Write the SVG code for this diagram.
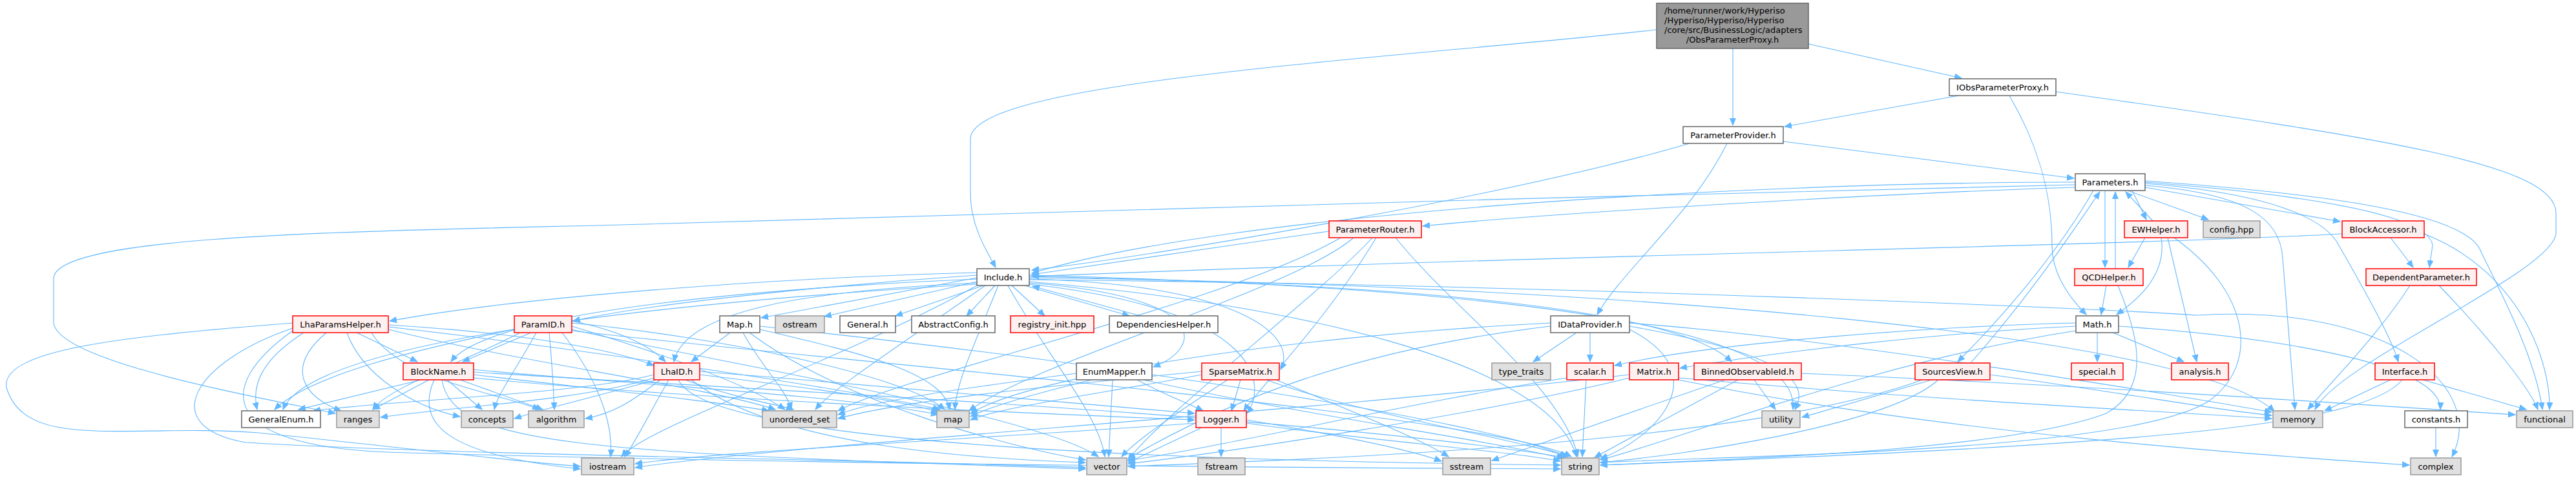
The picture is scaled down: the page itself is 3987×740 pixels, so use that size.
<svg xmlns="http://www.w3.org/2000/svg" width="3987" height="740" viewBox="0 0 3987 740">
<defs>
<style>
.e path{fill:none;stroke:#63b8ff;stroke-width:1.1;marker-end:url(#ah)}
.n rect{fill:#ffffff;stroke:#666666;stroke-width:1.5}
.r rect{fill:#fff0f0;stroke:#ff0000;stroke-width:1.5}
.x rect{fill:#e0e0e0;stroke:#999999;stroke-width:1.5}
text{font-family:"DejaVu Sans","Liberation Sans",sans-serif;font-size:13px;fill:#000000;text-anchor:middle}
</style>
<marker id="ah" markerWidth="12" markerHeight="10" refX="11" refY="5" orient="auto" markerUnits="userSpaceOnUse"><path d="M0,0.5 L11,5 L0,9.5 z" fill="#63b8ff" stroke="#63b8ff"/></marker>
</defs>
<rect width="3987" height="740" fill="#ffffff"/>
<g id="edges" class="e">
<path d="M2564,46 C2150,92 1502,125 1502,215 L1502,300 C1502,350 1528,390 1541,414"/>
<path d="M2682,75 L2682,194"/>
<path d="M2799,68 L3036,121"/>
<path d="M3032,148 L2762,196"/>
<path d="M3110,148 C3155,225 3176,300 3176,380 C3176,430 3210,468 3229,487"/>
<path d="M3182,142 C3700,215 3956,255 3956,330 L3956,360 C3956,420 3620,560 3583,634"/>
<path d="M2760,219 L3210,276"/>
<path d="M2615,222 C2350,300 1800,395 1597,418"/>
<path d="M2673,222 C2620,330 2510,420 2472,487"/>
<path d="M3212,282 C2700,282 1900,330 1597,423"/>
<path d="M3212,290 C2900,300 2400,330 2202,350"/>
<path d="M3212,286 C2500,300 1500,335 1000,347 C600,358 90,360 83,430 L83,500 C90,560 400,615 519,640"/>
<path d="M3300,295 L3322,340"/>
<path d="M3293,295 L3418,340"/>
<path d="M3320,290 L3622,343"/>
<path d="M3258,295 L3258,414"/>
<path d="M3240,295 C3180,400 3090,500 3030,560"/>
<path d="M3320,282 C3550,300 3760,330 3765,380 L3760,414"/>
<path d="M3320,287 C3480,300 3530,340 3533,400 L3552,634"/>
<path d="M3320,284 C3520,300 3600,340 3620,380 C3660,450 3700,520 3712,560"/>
<path d="M3320,280 C3600,300 3820,330 3840,390 C3880,470 3925,560 3935,634"/>
<path d="M3332,342 L3290,297"/>
<path d="M3274,416 L3274,297"/>
<path d="M3050,562 C3140,460 3200,370 3250,297"/>
<path d="M3320,368 L3294,414"/>
<path d="M3345,368 C3355,430 3300,470 3276,487"/>
<path d="M3355,368 L3400,560"/>
<path d="M3365,368 C3480,450 3500,560 3420,620 C3300,700 2700,705 2477,716"/>
<path d="M3260,442 L3252,487"/>
<path d="M3278,442 C3310,520 3330,600 3260,640 C3100,700 2650,712 2477,720"/>
<path d="M3246,515 L3246,560"/>
<path d="M3270,515 L3380,560"/>
<path d="M3279,505 C3500,520 3780,560 3777,634"/>
<path d="M3213,500 C3000,505 2650,530 2499,566"/>
<path d="M3213,505 C3000,515 2750,545 2600,570"/>
<path d="M3213,512 C2900,560 2600,680 2477,712"/>
<path d="M3730,442 C3680,520 3600,600 3572,634"/>
<path d="M3775,442 C3850,520 3915,600 3928,634"/>
<path d="M3700,368 L3735,414"/>
<path d="M3625,362 C3300,380 2400,395 1597,428"/>
<path d="M3752,362 C3900,420 3948,560 3946,634"/>
<path d="M3700,588 L3598,636"/>
<path d="M3750,588 L3910,634"/>
<path d="M3718,588 C3660,660 3300,690 2477,720"/>
<path d="M3770,662 L3770,707"/>
<path d="M3080,580 C3300,610 3450,638 3516,643"/>
<path d="M2990,588 L2789,646"/>
<path d="M3000,588 C2920,660 2600,705 2477,716"/>
<path d="M2975,588 C2700,690 2000,712 1746,722"/>
<path d="M2715,588 L2748,634"/>
<path d="M2690,588 L2468,708"/>
<path d="M2670,588 L2309,713"/>
<path d="M2788,578 C3300,600 3700,630 3893,642"/>
<path d="M2522,585 C2300,640 1900,700 1746,718"/>
<path d="M2598,585 C3000,620 3400,640 3516,648"/>
<path d="M2598,588 C3000,670 3500,705 3729,720"/>
<path d="M2522,580 C2000,640 1200,690 983,724"/>
<path d="M2425,585 C2200,620 1900,690 1746,713"/>
<path d="M2455,588 L2449,707"/>
<path d="M2440,515 L2373,560"/>
<path d="M2461,515 L2461,560"/>
<path d="M2522,505 C2720,540 2810,580 2778,634"/>
<path d="M2522,510 C2660,580 2560,680 2477,710"/>
<path d="M2400,505 C2100,540 1900,620 1746,710"/>
<path d="M2400,500 C2000,520 1600,580 1502,640"/>
<path d="M2522,500 C2800,520 3300,600 3516,638"/>
<path d="M2057,358 C1900,380 1700,410 1597,425"/>
<path d="M2095,368 C2000,450 1600,560 1500,636"/>
<path d="M2124,368 C2050,450 1800,640 1746,712"/>
<path d="M2160,368 C2250,480 2420,600 2442,707"/>
<path d="M2075,368 C1900,470 1400,580 1297,636"/>
<path d="M2130,368 C2050,500 1950,600 1925,636"/>
<path d="M1512,430 L1178,492"/>
<path d="M1512,436 L1276,490"/>
<path d="M1522,442 L1386,489"/>
<path d="M1540,442 L1496,489"/>
<path d="M1566,442 L1617,489"/>
<path d="M1586,442 L1748,489"/>
<path d="M1765,489 L1598,443"/>
<path d="M1512,422 C1200,430 800,460 603,497"/>
<path d="M1512,426 C1300,440 1000,470 887,497"/>
<path d="M1512,432 C1100,450 750,490 698,560"/>
<path d="M1512,438 C1250,450 1060,480 1043,560"/>
<path d="M1512,440 C1000,470 480,530 438,634"/>
<path d="M1593,438 C1880,460 1860,540 1785,568"/>
<path d="M1593,432 C1920,440 2010,520 1982,572"/>
<path d="M1593,440 C1960,480 1960,600 1930,640"/>
<path d="M1593,428 C2200,440 2600,480 2680,560"/>
<path d="M1593,426 C2300,445 2790,500 2775,634"/>
<path d="M1593,433 C2400,440 3300,480 3400,488 C3700,470 3850,600 3795,707"/>
<path d="M1593,436 C2000,470 2400,560 2440,707"/>
<path d="M1560,442 C1620,550 1700,640 1710,707"/>
<path d="M1545,442 C1510,530 1480,590 1478,634"/>
<path d="M1525,442 C1400,530 1290,600 1262,634"/>
<path d="M1512,442 C1300,560 1000,660 962,707"/>
<path d="M1593,430 C2500,440 3400,520 3520,637"/>
<path d="M1130,515 L1070,560"/>
<path d="M1176,510 C1350,550 1460,580 1470,634"/>
<path d="M1160,515 C1300,620 1550,690 1680,712"/>
<path d="M1176,505 C1700,560 2300,650 2425,707"/>
<path d="M1150,515 C1180,570 1215,600 1225,634"/>
<path d="M552,515 L646,560"/>
<path d="M470,515 C400,560 390,600 398,634"/>
<path d="M505,515 C440,570 470,615 528,636"/>
<path d="M537,515 C560,580 640,630 712,645"/>
<path d="M575,515 C620,590 780,610 835,634"/>
<path d="M453,500 C200,520 0,540 10,600 C40,700 200,655 400,670 C600,690 800,715 898,722"/>
<path d="M453,508 C300,560 240,660 380,685 C700,705 1400,712 1680,724"/>
<path d="M453,512 C330,600 340,690 600,700 C1200,718 2000,724 2415,726"/>
<path d="M601,510 C800,560 1100,600 1200,634"/>
<path d="M601,506 C900,540 1300,600 1455,634"/>
<path d="M601,503 C800,515 950,540 1012,566"/>
<path d="M822,515 L716,560"/>
<path d="M796,510 C650,540 480,580 425,634"/>
<path d="M805,515 C720,560 600,600 577,634"/>
<path d="M830,515 C800,570 770,610 765,634"/>
<path d="M850,515 C855,570 857,610 858,634"/>
<path d="M885,505 C1000,540 1150,590 1215,634"/>
<path d="M885,500 C1100,520 1400,580 1462,634"/>
<path d="M885,510 C1100,560 1600,640 1700,707"/>
<path d="M885,512 C1300,560 2300,640 2432,707"/>
<path d="M885,497 C950,510 1000,530 1030,560"/>
<path d="M870,515 C920,580 950,650 945,707"/>
<path d="M652,588 L462,634"/>
<path d="M664,588 L577,634"/>
<path d="M692,588 L746,634"/>
<path d="M712,588 L840,634"/>
<path d="M672,588 C640,660 700,705 898,726"/>
<path d="M684,588 C700,690 900,700 1680,726"/>
<path d="M733,576 C1100,600 2000,640 2422,708"/>
<path d="M733,580 C900,600 1100,620 1190,636"/>
<path d="M733,572 C900,590 1300,610 1452,642"/>
<path d="M733,585 C1100,620 1600,640 1849,650"/>
<path d="M1012,580 C900,610 600,620 485,636"/>
<path d="M1012,585 C900,620 700,630 589,646"/>
<path d="M1015,588 C900,620 850,630 796,648"/>
<path d="M1022,588 C980,620 950,640 906,648"/>
<path d="M1035,588 C1000,650 980,690 967,707"/>
<path d="M1060,588 C1150,620 1200,625 1228,634"/>
<path d="M1083,580 C1250,600 1400,620 1452,638"/>
<path d="M1070,588 C1200,690 1500,710 1680,716"/>
<path d="M1050,588 C1100,700 2000,715 2415,720"/>
<path d="M1083,575 C1400,600 1750,630 1849,640"/>
<path d="M1690,588 C1600,610 1530,630 1502,645"/>
<path d="M1722,588 L1716,707"/>
<path d="M1770,588 C2000,640 2300,680 2420,710"/>
<path d="M1760,588 C1800,610 1840,625 1862,636"/>
<path d="M1666,578 C1500,600 1350,620 1297,642"/>
<path d="M1900,588 C1820,640 1760,680 1736,707"/>
<path d="M1860,580 C1700,610 1550,630 1502,650"/>
<path d="M1920,588 L1906,636"/>
<path d="M1860,575 C1600,600 1400,620 1297,648"/>
<path d="M1960,588 C2100,640 2350,680 2427,707"/>
<path d="M1975,588 C2100,640 2200,680 2242,707"/>
<path d="M1890,662 L1890,707"/>
<path d="M1860,662 L1746,716"/>
<path d="M1929,655 C2100,680 2350,700 2415,714"/>
<path d="M1929,650 C2050,670 2180,695 2231,714"/>
<path d="M1851,655 C1500,680 1100,700 983,718"/>
</g>
<g id="main"><rect x="2564" y="5" width="235" height="70" fill="#999999" stroke="#666666" stroke-width="1.5"/>
<text x="2576" y="21" text-anchor="start" style="text-anchor:start">/home/runner/work/Hyperiso</text>
<text x="2576" y="36" style="text-anchor:start">/Hyperiso/Hyperiso/Hyperiso</text>
<text x="2576" y="51" style="text-anchor:start">/core/src/BusinessLogic/adapters</text>
<text x="2681.5" y="65.5">/ObsParameterProxy.h</text></g>
<g id="IObsParameterProxy" class="n"><rect x="3017" y="122" width="165" height="26"/><text x="3099.5" y="140">IObsParameterProxy.h</text></g>
<g id="ParameterProvider" class="n"><rect x="2605" y="196" width="155" height="26"/><text x="2682.5" y="214">ParameterProvider.h</text></g>
<g id="Parameters" class="n"><rect x="3212" y="269" width="108" height="26"/><text x="3266" y="287">Parameters.h</text></g>
<g id="ParameterRouter" class="r"><rect x="2057" y="342" width="143" height="26"/><text x="2128.5" y="360">ParameterRouter.h</text></g>
<g id="EWHelper" class="r"><rect x="3288" y="342" width="98" height="26"/><text x="3337" y="360">EWHelper.h</text></g>
<g id="config" class="x"><rect x="3410" y="342" width="88" height="26"/><text x="3454" y="360">config.hpp</text></g>
<g id="BlockAccessor" class="r"><rect x="3625" y="342" width="127" height="26"/><text x="3688.5" y="360">BlockAccessor.h</text></g>
<g id="Include" class="n"><rect x="1512" y="416" width="81" height="26"/><text x="1552.5" y="434">Include.h</text></g>
<g id="QCDHelper" class="r"><rect x="3211" y="416" width="106" height="26"/><text x="3264" y="434">QCDHelper.h</text></g>
<g id="DependentParameter" class="r"><rect x="3662" y="416" width="171" height="26"/><text x="3747.5" y="434">DependentParameter.h</text></g>
<g id="LhaParamsHelper" class="r"><rect x="453" y="489" width="148" height="26"/><text x="527" y="507">LhaParamsHelper.h</text></g>
<g id="ParamID" class="r"><rect x="796" y="489" width="89" height="26"/><text x="840.5" y="507">ParamID.h</text></g>
<g id="Map" class="n"><rect x="1114" y="489" width="62" height="26"/><text x="1145" y="507">Map.h</text></g>
<g id="ostream" class="x"><rect x="1200" y="489" width="76" height="26"/><text x="1238" y="507">ostream</text></g>
<g id="General" class="n"><rect x="1300" y="489" width="86" height="26"/><text x="1343" y="507">General.h</text></g>
<g id="AbstractConfig" class="n"><rect x="1411" y="489" width="129" height="26"/><text x="1475.5" y="507">AbstractConfig.h</text></g>
<g id="registry_init" class="r"><rect x="1564" y="489" width="129" height="26"/><text x="1628.5" y="507">registry_init.hpp</text></g>
<g id="DependenciesHelper" class="n"><rect x="1717" y="489" width="168" height="26"/><text x="1801" y="507">DependenciesHelper.h</text></g>
<g id="IDataProvider" class="n"><rect x="2400" y="489" width="122" height="26"/><text x="2461" y="507">IDataProvider.h</text></g>
<g id="Math" class="n"><rect x="3213" y="489" width="66" height="26"/><text x="3246" y="507">Math.h</text></g>
<g id="BlockName" class="r"><rect x="624" y="562" width="109" height="26"/><text x="678.5" y="580">BlockName.h</text></g>
<g id="LhaID" class="r"><rect x="1012" y="562" width="71" height="26"/><text x="1047.5" y="580">LhaID.h</text></g>
<g id="EnumMapper" class="n"><rect x="1666" y="562" width="117" height="26"/><text x="1724.5" y="580">EnumMapper.h</text></g>
<g id="SparseMatrix" class="r"><rect x="1860" y="562" width="120" height="26"/><text x="1920" y="580">SparseMatrix.h</text></g>
<g id="type_traits" class="x"><rect x="2309" y="562" width="91" height="26"/><text x="2354.5" y="580">type_traits</text></g>
<g id="scalar" class="r"><rect x="2425" y="562" width="72" height="26"/><text x="2461" y="580">scalar.h</text></g>
<g id="Matrix" class="r"><rect x="2522" y="562" width="76" height="26"/><text x="2560" y="580">Matrix.h</text></g>
<g id="BinnedObservableId" class="r"><rect x="2622" y="562" width="166" height="26"/><text x="2705" y="580">BinnedObservableId.h</text></g>
<g id="SourcesView" class="r"><rect x="2964" y="562" width="116" height="26"/><text x="3022" y="580">SourcesView.h</text></g>
<g id="special" class="r"><rect x="3206" y="562" width="80" height="26"/><text x="3246" y="580">special.h</text></g>
<g id="analysis" class="r"><rect x="3361" y="562" width="88" height="26"/><text x="3405" y="580">analysis.h</text></g>
<g id="Interface" class="r"><rect x="3676" y="562" width="92" height="26"/><text x="3722" y="580">Interface.h</text></g>
<g id="GeneralEnum" class="n"><rect x="374" y="636" width="122" height="26"/><text x="435" y="654">GeneralEnum.h</text></g>
<g id="ranges" class="x"><rect x="521" y="636" width="66" height="26"/><text x="554" y="654">ranges</text></g>
<g id="concepts" class="x"><rect x="714" y="636" width="80" height="26"/><text x="754" y="654">concepts</text></g>
<g id="algorithm" class="x"><rect x="818" y="636" width="86" height="26"/><text x="861" y="654">algorithm</text></g>
<g id="unordered_set" class="x"><rect x="1180" y="636" width="115" height="26"/><text x="1237.5" y="654">unordered_set</text></g>
<g id="map" class="x"><rect x="1450" y="636" width="50" height="26"/><text x="1475" y="654">map</text></g>
<g id="Logger" class="r"><rect x="1851" y="636" width="78" height="26"/><text x="1890" y="654">Logger.h</text></g>
<g id="utility" class="x"><rect x="2727" y="636" width="59" height="26"/><text x="2756.5" y="654">utility</text></g>
<g id="memory" class="x"><rect x="3518" y="636" width="77" height="26"/><text x="3556.5" y="654">memory</text></g>
<g id="constants" class="n"><rect x="3722" y="636" width="97" height="26"/><text x="3770.5" y="654">constants.h</text></g>
<g id="functional" class="x"><rect x="3895" y="636" width="87" height="26"/><text x="3938.5" y="654">functional</text></g>
<g id="iostream" class="x"><rect x="900" y="709" width="81" height="26"/><text x="940.5" y="727">iostream</text></g>
<g id="vector" class="x"><rect x="1682" y="709" width="62" height="26"/><text x="1713" y="727">vector</text></g>
<g id="fstream" class="x"><rect x="1854" y="709" width="73" height="26"/><text x="1890.5" y="727">fstream</text></g>
<g id="sstream" class="x"><rect x="2233" y="709" width="74" height="26"/><text x="2270" y="727">sstream</text></g>
<g id="string" class="x"><rect x="2417" y="709" width="58" height="26"/><text x="2446" y="727">string</text></g>
<g id="complex" class="x"><rect x="3731" y="709" width="78" height="26"/><text x="3770" y="727">complex</text></g>
</svg>
